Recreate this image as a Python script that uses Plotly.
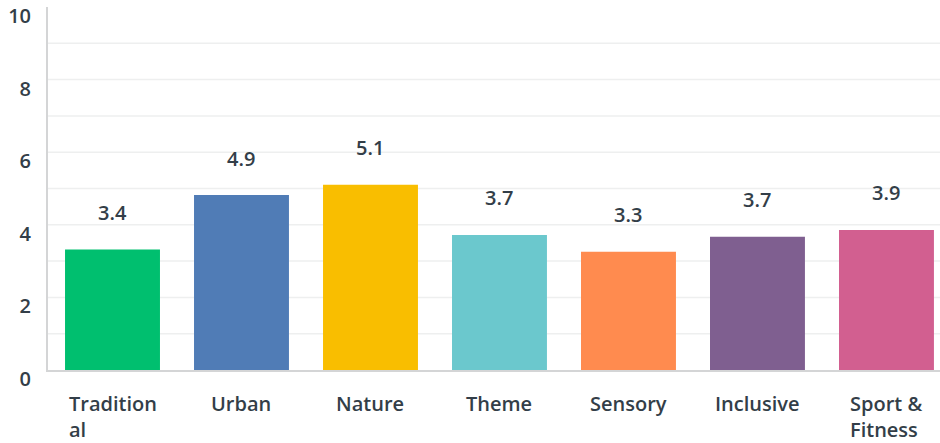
import plotly.graph_objects as go

categories = ["Tradition<br>al", "Urban", "Nature", "Theme", "Sensory", "Inclusive", "Sport &<br>Fitness"]
values = [3.32, 4.82, 5.10, 3.72, 3.26, 3.67, 3.86]
value_labels = ["3.4", "4.9", "5.1", "3.7", "3.3", "3.7", "3.9"]
colors = ["#00BF6F", "#507CB6", "#F9BE00", "#6BC8CD", "#FF8B4F", "#7F5F90", "#D25F90"]
y_ticks = [0, 2, 4, 6, 8, 10]
grid_values = [1, 2, 3, 4, 5, 6, 7, 8, 9]

TEXT = "#333E48"
FONT = "Open Sans"
FS = 20

x_idx = list(range(len(categories)))

fig = go.Figure()
fig.add_trace(go.Bar(
    x=x_idx, y=values, marker=dict(color=colors, line=dict(width=0)),
    width=0.736, hoverinfo="skip",
))

for i, (v, t) in enumerate(zip(values, value_labels)):
    fig.add_annotation(x=i, y=v, xref="x", yref="y", text=t, showarrow=False,
                       yanchor="middle", yshift=37,
                       font=dict(family=FONT, size=FS, color=TEXT, weight=600))

for i, c in enumerate(categories):
    fig.add_annotation(x=i, y=0, xref="x", yref="paper", text=c, showarrow=False,
                       yanchor="top", yshift=-18, align="left",
                       font=dict(family=FONT, size=FS, color=TEXT, weight=600))

for g in grid_values:
    fig.add_shape(type="line", xref="paper", yref="y", x0=0, x1=1, y0=g, y1=g,
                  line=dict(color="#EEEFEF", width=1.5), layer="below")

fig.update_layout(
    width=940, height=443,
    margin=dict(l=48, r=0, t=7, b=73, autoexpand=False),
    paper_bgcolor="white", plot_bgcolor="white",
    showlegend=False,
    font=dict(family=FONT, size=FS, color=TEXT),
    xaxis=dict(range=[-0.5, 6.415], showticklabels=False, showgrid=False,
               zeroline=False, showline=True, linecolor="#D4D5D6", linewidth=2,
               ticks="", fixedrange=True, automargin=False),
    yaxis=dict(range=[0, 10], tickvals=y_ticks, ticktext=[str(t) for t in y_ticks],
               showgrid=False, zeroline=False, showline=True, linecolor="#D4D5D6",
               linewidth=2, ticks="", ticklabelshift=9,
               ticklabelstandoff=11, automargin=False,
               tickfont=dict(family=FONT, size=FS, color=TEXT, weight=600),
               fixedrange=True),
)

fig.write_html("out.html", config={"displayModeBar": False},
               post_script="document.body.style.margin='0';document.body.style.overflow='hidden';")
